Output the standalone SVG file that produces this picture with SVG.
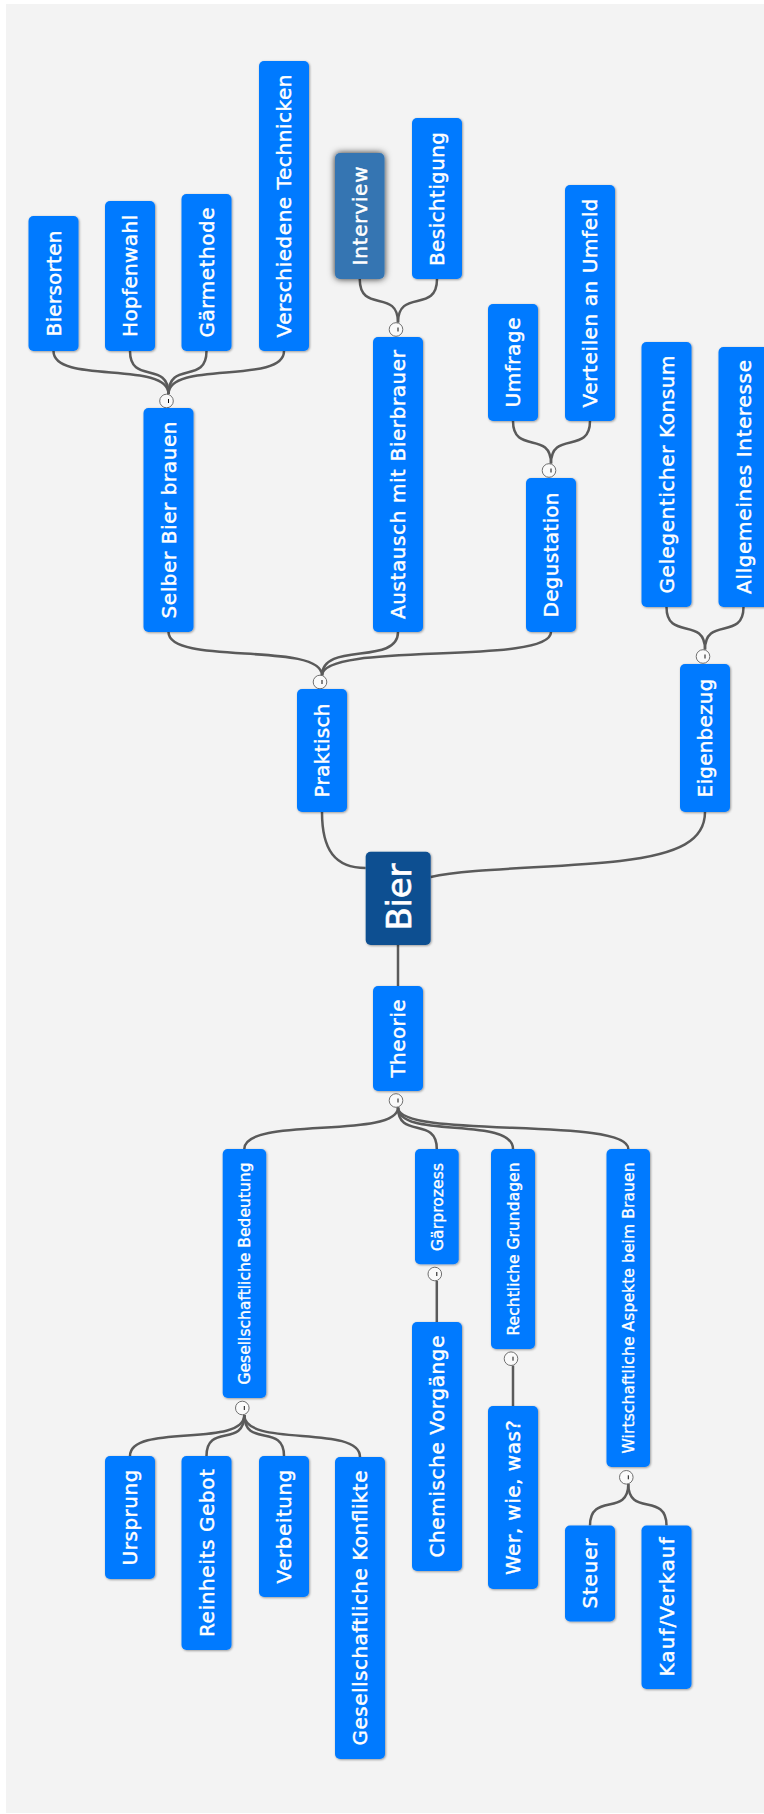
<svg xmlns="http://www.w3.org/2000/svg" width="764" height="1814" viewBox="0 0 764 1814">
<defs>
<filter id="sh" x="-20%" y="-20%" width="140%" height="140%">
<feDropShadow dx="0.8" dy="0.8" stdDeviation="0.8" flood-color="#000" flood-opacity="0.4"/>
</filter>
<filter id="glow" x="-50%" y="-50%" width="200%" height="200%">
<feDropShadow dx="0" dy="0" stdDeviation="3.5" flood-color="#000" flood-opacity="0.85"/>
</filter>
</defs>
<style>
.n{fill:#007aff;filter:url(#sh)}
.ni{fill:#3474b2;filter:url(#glow)}
.nr{fill:#0d5091;filter:url(#sh)}
.t{fill:#fff;stroke:#fff;stroke-width:0.45;font-family:"DejaVu Sans",Verdana,sans-serif;font-size:20px;text-anchor:middle}
.ts{font-size:15.5px;stroke-width:0.35}
.tb{font-size:34px;stroke-width:0.6}
.c{fill:none;stroke:#5a5a5a;stroke-width:2.5}
.k{fill:#fafafa;stroke:#707070;stroke-width:1}
.kt{stroke:#111;stroke-width:1}
</style>
<rect x="0" y="0" width="764" height="1814" fill="#fff"/>
<rect x="6" y="4" width="758" height="1809" fill="#f3f3f3"/>
<g id="connectors">
<path class="c" d="M53.5,351 C53.5,385 168.5,360 168.5,394"/>
<path class="c" d="M130,351 C130,385 168.5,360 168.5,394"/>
<path class="c" d="M206.5,351 C206.5,385 168.5,360 168.5,394"/>
<path class="c" d="M284,351 C284,385 168.5,360 168.5,394"/>
<path class="c" d="M359.75,279 C359.75,314 398,288 398,322.5"/>
<path class="c" d="M437,279 C437,314 398,288 398,322.5"/>
<path class="c" d="M513,421 C513,455 551,430 551,463.5"/>
<path class="c" d="M590,421 C590,455 551,430 551,463.5"/>
<path class="c" d="M666.5,607 C666.5,641 705,616 705,649.5"/>
<path class="c" d="M743.5,607 C743.5,641 705,616 705,649.5"/>
<path class="c" d="M168.5,632 C168.5,666 322,641 322,675.5"/>
<path class="c" d="M398,632 C398,666 322,641 322,675.5"/>
<path class="c" d="M551,632 C551,666 322,641 322,675.5"/>
<path class="c" d="M322,812 C322,850 335,868 365.7,868"/>
<path class="c" d="M430.7,877 C470,868 560,868 620,861 C680,854 705,840 705,812"/>
<path class="c" d="M398,945 L398,986"/>
<path class="c" d="M398,1107.5 C398,1139.5 244.3,1116 244.3,1149"/>
<path class="c" d="M398,1107.5 C398,1139.5 436.8,1116 436.8,1149"/>
<path class="c" d="M398,1107.5 C398,1139.5 513,1116 513,1149"/>
<path class="c" d="M398,1107.5 C398,1139.5 628.3,1116 628.3,1149"/>
<path class="c" d="M436.8,1281 L436.8,1322"/>
<path class="c" d="M513,1365.5 L513,1406"/>
<path class="c" d="M244.3,1415 C244.3,1448 130,1423 130,1456"/>
<path class="c" d="M244.3,1415 C244.3,1448 206.5,1423 206.5,1456"/>
<path class="c" d="M244.3,1415 C244.3,1448 284,1423 284,1456"/>
<path class="c" d="M244.3,1415 C244.3,1448 360,1424 360,1457"/>
<path class="c" d="M628.3,1484 C628.3,1517 590,1492 590,1525.5"/>
<path class="c" d="M628.3,1484 C628.3,1517 666.5,1492 666.5,1525.5"/>
<circle class="k" cx="166.5" cy="401" r="6.8"/><path class="kt" d="M168.5,399 V403"/>
<circle class="k" cx="396" cy="329.5" r="6.8"/><path class="kt" d="M398,327.5 V331.5"/>
<circle class="k" cx="549" cy="470.5" r="6.8"/><path class="kt" d="M551,468.5 V472.5"/>
<circle class="k" cx="703" cy="656.5" r="6.8"/><path class="kt" d="M705,654.5 V658.5"/>
<circle class="k" cx="320" cy="682" r="6.8"/><path class="kt" d="M322,680 V684"/>
<circle class="k" cx="396" cy="1100.5" r="6.8"/><path class="kt" d="M398,1098.5 V1102.5"/>
<circle class="k" cx="434.8" cy="1274" r="6.8"/><path class="kt" d="M436.8,1272 V1276"/>
<circle class="k" cx="511" cy="1358.7" r="6.8"/><path class="kt" d="M513,1356.7 V1360.7"/>
<circle class="k" cx="242.3" cy="1408" r="6.8"/><path class="kt" d="M244.3,1406 V1410"/>
<circle class="k" cx="626.3" cy="1477.3" r="6.8"/><path class="kt" d="M628.3,1475.3 V1479.3"/>
</g>
<g id="n-biersorten"><rect class="n" x="28.5" y="216" width="50" height="135" rx="5"/><text class="t" transform="translate(60.8,283.5) rotate(-90)" textLength="106" lengthAdjust="spacing">Biersorten</text></g>
<g id="n-hopfenwahl"><rect class="n" x="105" y="201" width="50" height="150" rx="5"/><text class="t" transform="translate(137.3,276) rotate(-90)" textLength="122" lengthAdjust="spacing">Hopfenwahl</text></g>
<g id="n-gaermethode"><rect class="n" x="181.5" y="194" width="50" height="157" rx="5"/><text class="t" transform="translate(213.8,272.5) rotate(-90)" textLength="130" lengthAdjust="spacing">Gärmethode</text></g>
<g id="n-techniken"><rect class="n" x="259" y="61" width="50" height="290" rx="5"/><text class="t" transform="translate(291.3,206) rotate(-90)" textLength="263" lengthAdjust="spacing">Verschiedene Technicken</text></g>
<g id="n-interview"><rect class="ni" x="335" y="153" width="49.5" height="126" rx="5"/><text class="t" transform="translate(367.1,216) rotate(-90)" textLength="99" lengthAdjust="spacing">Interview</text></g>
<g id="n-besichtigung"><rect class="n" x="412" y="118" width="50" height="161" rx="5"/><text class="t" transform="translate(444.3,199) rotate(-90)" textLength="134" lengthAdjust="spacing">Besichtigung</text></g>
<g id="n-umfrage"><rect class="n" x="488" y="304" width="50" height="117" rx="5"/><text class="t" transform="translate(520.3,362.5) rotate(-90)" textLength="90" lengthAdjust="spacing">Umfrage</text></g>
<g id="n-verteilen"><rect class="n" x="565" y="185" width="50" height="236" rx="5"/><text class="t" transform="translate(597.3,303) rotate(-90)" textLength="209" lengthAdjust="spacing">Verteilen an Umfeld</text></g>
<g id="n-gelegentlich"><rect class="n" x="641.5" y="342" width="50" height="265" rx="5"/><text class="t" transform="translate(673.8,474.5) rotate(-90)" textLength="238" lengthAdjust="spacing">Gelegenticher Konsum</text></g>
<g id="n-allgemein"><rect class="n" x="718.5" y="347" width="50" height="260" rx="5"/><text class="t" transform="translate(750.8,477) rotate(-90)" textLength="234" lengthAdjust="spacing">Allgemeines Interesse</text></g>
<g id="n-selber"><rect class="n" x="143.5" y="408" width="50" height="224" rx="5"/><text class="t" transform="translate(175.8,520) rotate(-90)" textLength="197" lengthAdjust="spacing">Selber Bier brauen</text></g>
<g id="n-austausch"><rect class="n" x="373" y="337" width="50" height="295" rx="5"/><text class="t" transform="translate(405.3,484.5) rotate(-90)" textLength="269" lengthAdjust="spacing">Austausch mit Bierbrauer</text></g>
<g id="n-degustation"><rect class="n" x="526" y="478" width="50" height="154" rx="5"/><text class="t" transform="translate(558.3,555) rotate(-90)" textLength="125" lengthAdjust="spacing">Degustation</text></g>
<g id="n-praktisch"><rect class="n" x="297" y="689" width="50" height="123" rx="5"/><text class="t" transform="translate(329.3,750.5) rotate(-90)" textLength="94" lengthAdjust="spacing">Praktisch</text></g>
<g id="n-eigenbezug"><rect class="n" x="680" y="664" width="50" height="148" rx="5"/><text class="t" transform="translate(712.3,738) rotate(-90)" textLength="119" lengthAdjust="spacing">Eigenbezug</text></g>
<g id="n-bier"><rect class="nr" x="365.7" y="851.7" width="65" height="93.3" rx="5"/><text class="t tb" transform="translate(410.6,897) rotate(-90)" textLength="67" lengthAdjust="spacing">Bier</text></g>
<g id="n-theorie"><rect class="n" x="373" y="986" width="50" height="105" rx="5"/><text class="t" transform="translate(405.3,1038.5) rotate(-90)" textLength="78" lengthAdjust="spacing">Theorie</text></g>
<g id="n-gesellschaft"><rect class="n" x="222.7" y="1149" width="43.5" height="249" rx="5"/><text class="t ts" transform="translate(250.1,1273.5) rotate(-90)" textLength="222" lengthAdjust="spacing">Gesellschaftliche Bedeutung</text></g>
<g id="n-gaerprozess"><rect class="n" x="415" y="1149" width="43.7" height="115.3" rx="5"/><text class="t ts" transform="translate(442.6,1207) rotate(-90)" textLength="88" lengthAdjust="spacing">Gärprozess</text></g>
<g id="n-rechtlich"><rect class="n" x="491" y="1149" width="44" height="200" rx="5"/><text class="t ts" transform="translate(518.7,1249) rotate(-90)" textLength="173" lengthAdjust="spacing">Rechtliche Grundagen</text></g>
<g id="n-wirtschaft"><rect class="n" x="606.5" y="1149" width="43.5" height="318" rx="5"/><text class="t ts" transform="translate(633.9,1308) rotate(-90)" textLength="291" lengthAdjust="spacing">Wirtschaftliche Aspekte beim Brauen</text></g>
<g id="n-chemisch"><rect class="n" x="412" y="1322" width="50" height="249" rx="5"/><text class="t" transform="translate(444.3,1446.5) rotate(-90)" textLength="222" lengthAdjust="spacing">Chemische Vorgänge</text></g>
<g id="n-wer"><rect class="n" x="488" y="1406" width="50" height="183" rx="5"/><text class="t" transform="translate(520.3,1497.5) rotate(-90)" textLength="155" lengthAdjust="spacing">Wer, wie, was?</text></g>
<g id="n-steuer"><rect class="n" x="565" y="1525.5" width="50" height="96" rx="5"/><text class="t" transform="translate(597.3,1573.5) rotate(-90)" textLength="70" lengthAdjust="spacing">Steuer</text></g>
<g id="n-kauf"><rect class="n" x="641.5" y="1525.5" width="50" height="163.5" rx="5"/><text class="t" transform="translate(673.8,1607) rotate(-90)" textLength="139" lengthAdjust="spacing">Kauf/Verkauf</text></g>
<g id="n-ursprung"><rect class="n" x="105" y="1456" width="50" height="123" rx="5"/><text class="t" transform="translate(137.3,1517.5) rotate(-90)" textLength="96" lengthAdjust="spacing">Ursprung</text></g>
<g id="n-reinheit"><rect class="n" x="181.5" y="1456" width="50" height="194" rx="5"/><text class="t" transform="translate(213.8,1553) rotate(-90)" textLength="168" lengthAdjust="spacing">Reinheits Gebot</text></g>
<g id="n-verbeitung"><rect class="n" x="259" y="1456" width="50" height="141" rx="5"/><text class="t" transform="translate(291.3,1526.5) rotate(-90)" textLength="114" lengthAdjust="spacing">Verbeitung</text></g>
<g id="n-konflikte"><rect class="n" x="335" y="1457" width="50" height="302" rx="5"/><text class="t" transform="translate(367.3,1608) rotate(-90)" textLength="275" lengthAdjust="spacing">Gesellschaftliche Konflikte</text></g>
</svg>
